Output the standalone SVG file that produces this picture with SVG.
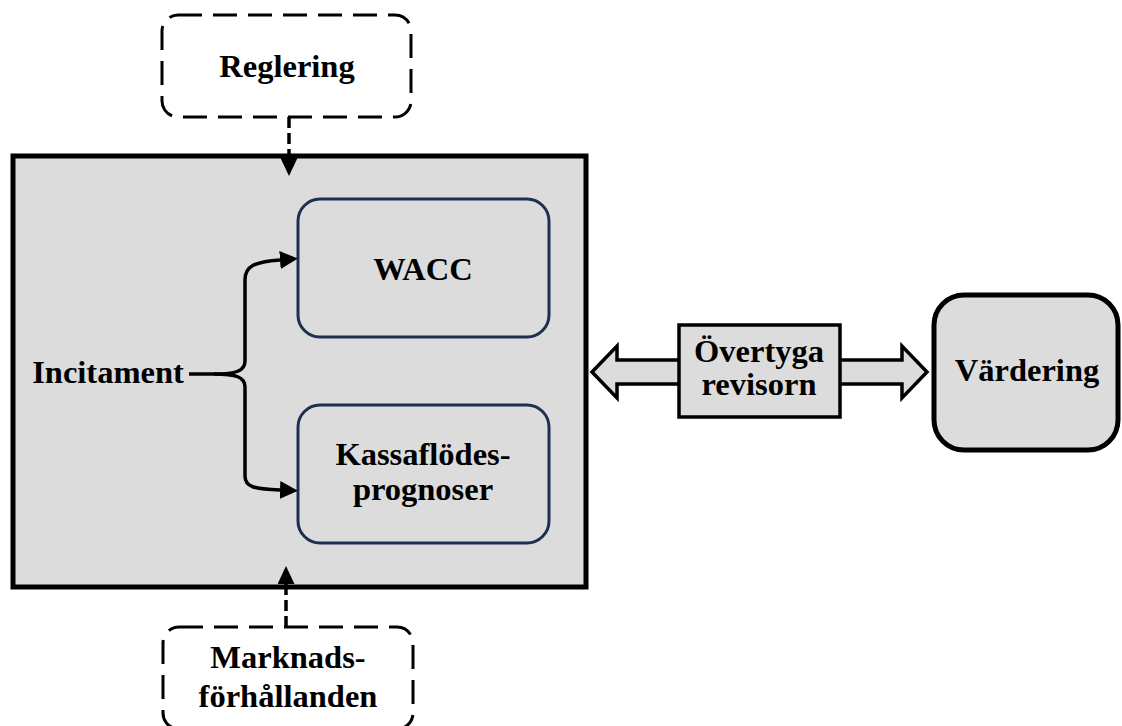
<svg xmlns="http://www.w3.org/2000/svg" width="1122" height="726" viewBox="0 0 1122 726">
  <style>
    .t { font-family: "Liberation Serif", "Times New Roman", serif; font-weight: bold; font-size: 32.5px; fill: #000; text-anchor: middle; }
    .dash { fill: #fff; stroke: #000; stroke-width: 3; stroke-dasharray: 24 11; }
    .inner { fill: #dcdcdc; stroke: #1f2f52; stroke-width: 3; }
    .conn { fill: none; stroke: #000; stroke-width: 3.5; }
    .dconn { fill: none; stroke: #000; stroke-width: 3.5; stroke-dasharray: 11 5; }
  </style>
  <defs>
    <marker id="ah" markerWidth="18" markerHeight="18" refX="0" refY="9" orient="auto" markerUnits="userSpaceOnUse">
      <path d="M0,0 L18,9 L0,18 z" fill="#000"/>
    </marker>
    <marker id="ahd" markerWidth="18" markerHeight="18" refX="0" refY="8.5" orient="auto" markerUnits="userSpaceOnUse">
      <path d="M0,0 L18,8.5 L0,17 z" fill="#000"/>
    </marker>
  </defs>

  <rect width="1122" height="726" fill="#fff"/>

  <g id="main">
    <rect x="13" y="156" width="573" height="431" fill="#dcdcdc" stroke="#000" stroke-width="5"/>
  </g>

  <g id="reglering">
    <rect class="dash" x="162" y="15" width="249" height="102" rx="16"/>
    <text class="t" x="287" y="77">Reglering</text>
  </g>

  <g id="marknad">
    <rect class="dash" x="163" y="627" width="250" height="102" rx="16"/>
    <text class="t" x="288" y="668">Marknads-</text>
    <text class="t" x="288" y="707">förhållanden</text>
  </g>

  <g id="wacc">
    <rect class="inner" x="298" y="199" width="251" height="138" rx="22"/>
    <text class="t" x="423" y="280">WACC</text>
  </g>

  <g id="kassa">
    <rect class="inner" x="298" y="405" width="251" height="138" rx="22"/>
    <text class="t" x="423" y="465">Kassaflödes-</text>
    <text class="t" x="423" y="500">prognoser</text>
  </g>

  <g id="incitament">
    <text class="t" x="108" y="383">Incitament</text>
  </g>

  <g id="connectors">
    <path class="dconn" d="M289,117 L289,158" marker-end="url(#ahd)"/>
    <path class="dconn" d="M286,627 L286,584" marker-end="url(#ahd)"/>
    <path class="conn" d="M189,374 L214,374 C236,374 245,371 245,361 L245,280 C245,266 254,262 280,260" marker-end="url(#ah)"/>
    <path class="conn" d="M214,374 C236,374 245,377 245,387 L245,476 C245,487 254,489 280,490" marker-end="url(#ah)"/>
    <polygon points="592,372 617,346 617,360 902,360 902,346 927,372 902,398 902,384 617,384 617,398" fill="#dcdcdc" stroke="#000" stroke-width="3.5" stroke-linejoin="miter"/>
  </g>

  <g id="overtyga">
    <rect x="679" y="325" width="161" height="92" fill="#dcdcdc" stroke="#000" stroke-width="3.5"/>
    <text class="t" x="759" y="362">Övertyga</text>
    <text class="t" x="759" y="395">revisorn</text>
  </g>

  <g id="vardering">
    <rect x="934" y="295" width="184" height="155" rx="30" fill="#dcdcdc" stroke="#000" stroke-width="5"/>
    <text class="t" x="1027" y="381">Värdering</text>
  </g>
</svg>
